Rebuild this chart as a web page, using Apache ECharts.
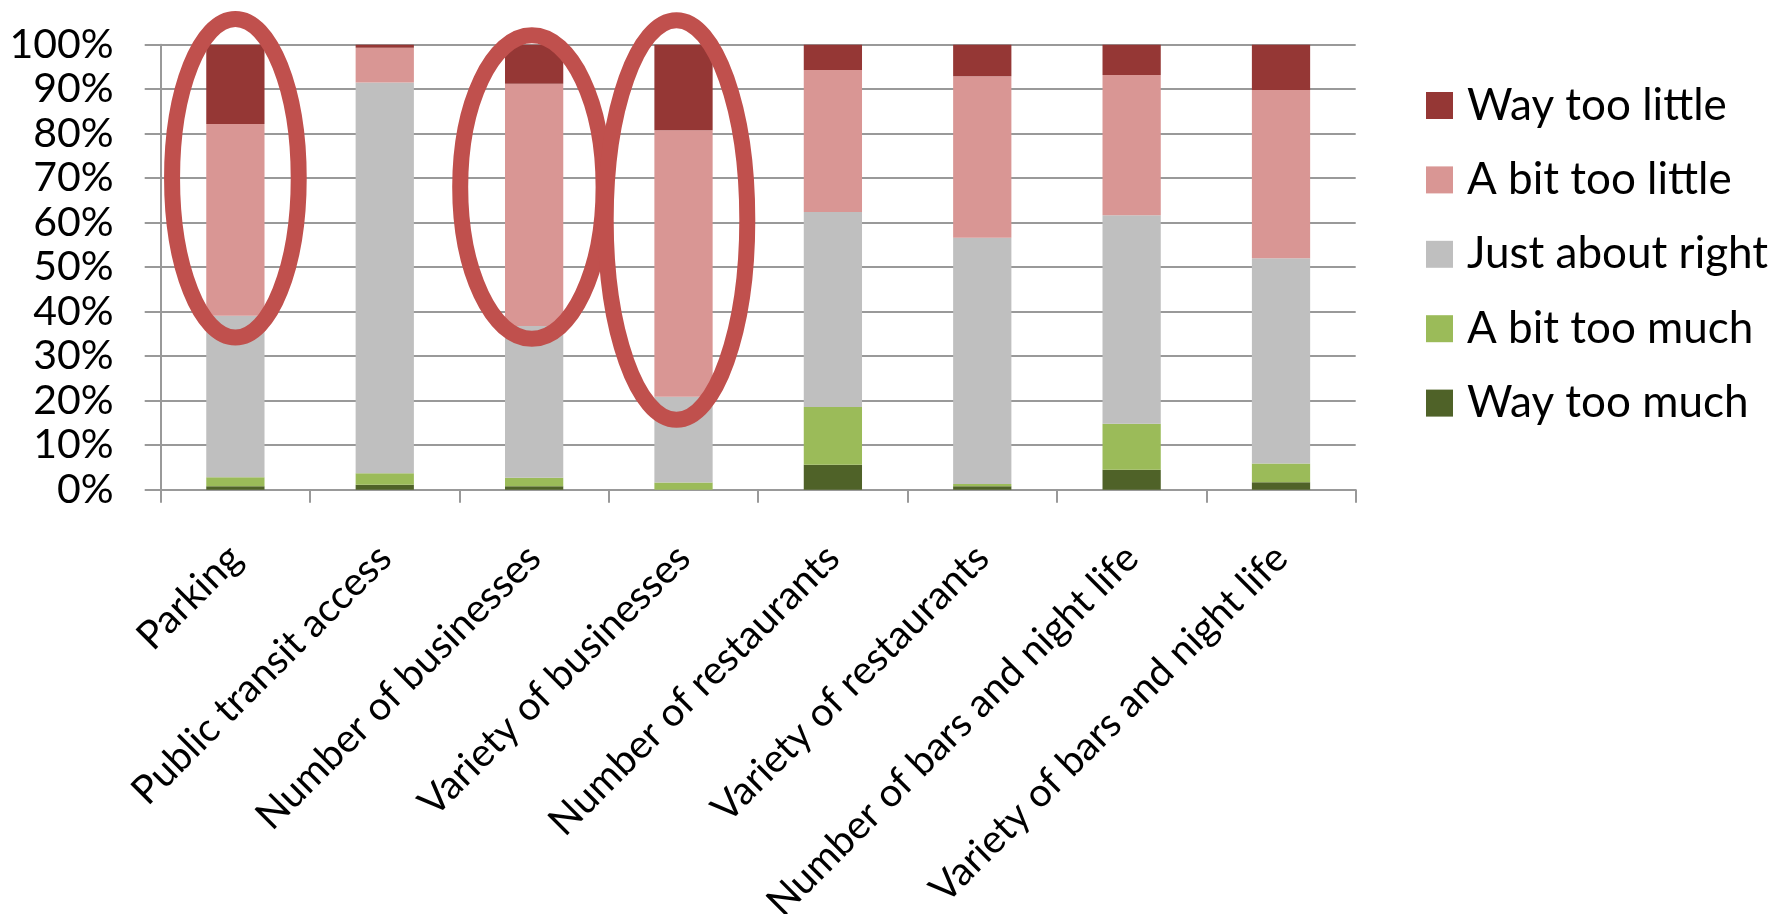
<!DOCTYPE html>
<html>
<head>
<meta charset="utf-8">
<script src="https://cdn.jsdelivr.net/npm/echarts@6/dist/echarts.min.js"></script>
<style>
html,body{margin:0;padding:0;background:#fff;}
#chart{width:1769px;height:914px;}
</style>
</head>
<body>
<div id="chart"></div>
<script>
const categories = ['Parking','Public transit access','Number of businesses','Variety of businesses','Number of restaurants','Variety of restaurants','Number of bars and night life','Variety of bars and night life'];
const seriesNames = ['Way too much','A bit too much','Just about right','A bit too little','Way too little'];
const wayTooMuch    = [0.8, 1.1, 0.8, 0.0, 5.6, 0.8, 4.5, 1.7];
const bitTooMuch    = [2.0, 2.6, 1.9, 1.6, 13.0, 0.5, 10.3, 4.2];
const justRight     = [36.3, 87.8, 34.1, 19.3, 43.8, 55.3, 46.9, 46.1];
const bitTooLittle  = [43.1, 7.8, 54.4, 59.9, 31.9, 36.3, 31.5, 37.8];
const wayTooLittle  = [17.8, 0.7, 8.8, 19.2, 5.7, 7.1, 6.8, 10.2];
const yTicks = [0,10,20,30,40,50,60,70,80,90,100];
const legendOrder = ['Way too little','A bit too little','Just about right','A bit too much','Way too much'];
// highlighted categories: [category, centre value %, half-height in value %]
const highlightCats = ['Parking','Number of businesses','Variety of businesses'];
const highlightCentre = [70, 68, 60.6];
const highlightHalfSpan = [35.8, 34.1, 44.9];

const colors = ['#4F6228','#9BBB59','#BFBFBF','#D99694','#953735'];
const values = [wayTooMuch, bitTooMuch, justRight, bitTooLittle, wayTooLittle];
const FONT = 'Lato';
// ellipse width (fraction of category width) and horizontal shift
const ellipseGeom = [{rx:0.424, dx:0.0},{rx:0.48, dx:-0.015},{rx:0.474, dx:-0.047}];

const chart = echarts.init(document.getElementById('chart'));
const barSeries = seriesNames.map((n,i)=>({
  name:n, type:'bar', stack:'total', data:values[i],
  barWidth:'39%', itemStyle:{color:colors[i]}, emphasis:{disabled:true}
}));
const ellipseData = highlightCats.map((c,i)=>[categories.indexOf(c), highlightCentre[i], highlightHalfSpan[i], i]);

chart.setOption({
  animation:false,
  textStyle:{fontFamily:FONT},
  grid:{left:160.7, right:413.3, top:44.7, bottom:424.3, containLabel:false, outerBoundsMode:'none'},
  legend:{
    data:legendOrder, orient:'vertical', left:1421, top:75.5,
    itemWidth:27, itemHeight:27, itemGap:24.4,
    icon:'rect',
    textStyle:{fontFamily:FONT, fontSize:44, color:'#000', lineHeight:50, padding:[0,0,0,9]},
    selectedMode:false
  },
  xAxis:{
    type:'category', data:categories,
    axisLine:{lineStyle:{color:'#999999', width:2}},
    axisTick:{show:true, interval:0, length:13, lineStyle:{color:'#999999', width:2}},
    axisLabel:{interval:0, rotate:45, fontFamily:FONT, fontSize:39.5, color:'#000', margin:62}
  },
  yAxis:{
    type:'value', min:0, max:100, interval:10,
    axisLine:{show:true, lineStyle:{color:'#999999', width:2}},
    axisTick:{show:true, length:16, lineStyle:{color:'#999999', width:2}},
    splitLine:{show:true, lineStyle:{color:'#999999', width:2}},
    axisLabel:{fontFamily:FONT, fontSize:41, color:'#000', margin:47,
      formatter:function(v){return yTicks.indexOf(v)>=0 ? v+'%' : '';}}
  },
  series: barSeries.concat([{
    name:'highlight', type:'custom', clip:false, z:10, silent:true,
    data: ellipseData,
    renderItem:function(params, api){
      const idx = api.value(0);
      const c = api.coord([idx, api.value(1)]);
      const t = api.coord([idx, api.value(1)+api.value(2)]);
      const bw = api.size([1,0])[0];
      const g = ellipseGeom[api.value(3)];
      return {type:'ellipse', shape:{cx:c[0]+g.dx*bw, cy:c[1], rx:g.rx*bw, ry:c[1]-t[1]},
        style:{fill:'none', stroke:'#C0504D', lineWidth:16}};
    }
  }])
});
</script>
</body>
</html>
